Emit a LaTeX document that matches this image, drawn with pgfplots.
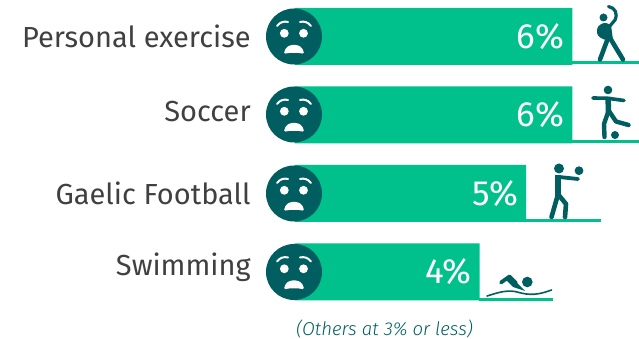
\documentclass[border=0pt]{standalone}
\usepackage{pgfplots}
\usepackage{fontspec}
\pgfplotsset{compat=1.18}
\setmainfont{Fira Sans}[ItalicFont=* Light Italic]
\definecolor{barg}{HTML}{00C18C}
\definecolor{teal}{HTML}{005E60}
\definecolor{labelc}{HTML}{404040}
\begin{document}
\begin{tikzpicture}[x=1pt,y=1pt]
\path[use as bounding box] (0,0) rectangle (639,339);
\begin{axis}[
  at={(294.5pt,0pt)}, anchor=south west,
  scale only axis, width=344.5pt, height=339pt,
  xmin=0, xmax=7.44,
  ymin=-0.465, ymax=3.854, y dir=reverse,
  clip=false,
  axis line style={draw=none},
  tick style={draw=none},
  xtick=\empty,
  ytick={0,0.95,2,2.94},
  yticklabels={Personal exercise,Soccer,Gaelic Football,Swimming},
  yticklabel style={font=\fontsize{29}{29}\selectfont, text=labelc, anchor=east, xshift=-36pt},
  xbar, bar width=57pt, bar shift=0pt,
  point meta=x,
  /pgf/number format/assume math mode=true,
  nodes near coords={\pgfmathprintnumber{\pgfplotspointmeta}\%},
  nodes near coords align={anchor=east},
  every node near coord/.append style={font=\fontsize{35}{35}\selectfont, text=white, anchor=east, xshift=-4.5pt},
]
\addplot[draw=none, fill=barg] coordinates {(6,0) (6,1) (5,2) (4,3)};
\end{axis}
% drawing layer measured in pixels from the top left
\begin{scope}[shift={(0,339)},x=1pt,y=-1pt]
  % baselines under the icons
  \fill[barg] (572,61.5) rectangle (639,64);
  \fill[barg] (572,140.5) rectangle (639,143);
  \fill[barg] (526,219.5) rectangle (601,222);
  \fill[barg] (479,298.5) rectangle (553,301);
  % worried faces
  \foreach \cy in {36.5,114.5,193.5,272}{
    \begin{scope}[shift={(294,\cy)}]
      \fill[teal] (0,0) circle[radius=28];
      \fill[white] (-9.7,-3.2) circle[radius=4.4];
      \fill[white] (9.5,-3.2) circle[radius=4.4];
      \draw[white,line width=2pt,line cap=round] (-17,-10.5) .. controls (-14,-14.5) and (-10,-15.5) .. (-6,-14.5);
      \draw[white,line width=2pt,line cap=round] (17,-10.5) .. controls (14,-14.5) and (10,-15.5) .. (6,-14.5);
      \fill[white,rounded corners=1.5pt] (-10,17.5) .. controls (-9,11) and (-5,8.5) .. (0,8.5) .. controls (5,8.5) and (9,11) .. (10,17.5) .. controls (5,16) and (-5,16) .. (-10,17.5) -- cycle;
    \end{scope}
  }
  \begin{scope}[teal,line cap=round,line join=round]
    % exercise figure
    \fill (603.5,17.5) circle[radius=4];
    \draw[line width=3.2pt] (608.5,6.5) .. controls (615,8) and (618,13) .. (615,20) -- (609,27);
    \fill (606,23) .. controls (599,23) and (596,28) .. (597,33) .. controls (598,37) and (602,39) .. (606,40) -- (613,40) -- (611,25) -- cycle;
    \draw[line width=4.6pt] (608,38) -- (600,59.5);
    \draw[line width=4.6pt] (610,38) -- (623,59.5);
    % soccer figure
    \fill (608,90) circle[radius=4.3];
    \draw[line width=3.6pt] (593,98) -- (607,98.2) -- (624,100.5);
    \draw[line width=5.5pt,line cap=butt] (608,97) -- (608.5,112);
    \draw[line width=4.4pt] (608.5,111) -- (604,124) -- (604.5,137);
    \draw[line width=4.4pt] (609,111) -- (616,121.5) -- (628.5,125);
    \fill (615,135) circle[radius=4];
    % gaelic football figure
    \fill (559,168.5) circle[radius=5];
    \fill (579,170.7) circle[radius=4.4];
    \draw[line width=3.8pt] (559,177) -- (578,179);
    \draw[line width=6pt,line cap=butt] (558,175) -- (558,197);
    \draw[line width=4.6pt] (557.5,196) -- (551.5,217);
    \draw[line width=4.6pt] (559.5,196) -- (566,204) -- (565,217);
    % swimmer
    \fill (527.3,282) circle[radius=5.3];
    \draw[line width=3.8pt] (501,282.5) -- (509.5,276.5) -- (516,283);
    \fill (506,280) -- (510,276) -- (525,291) -- (513,287) -- cycle;
    \draw[line width=1.6pt] (487,296) .. controls (497,293) and (505,290) .. (515,291.5) .. controls (525,294) and (533,297) .. (551.5,290);
  \end{scope}
\end{scope}
\node[font=\fontsize{18.6}{19}\selectfont\itshape, text=teal, inner sep=0pt] at (384.5,10.5) {(Others at 3\% or less)};
\end{tikzpicture}
\end{document}
